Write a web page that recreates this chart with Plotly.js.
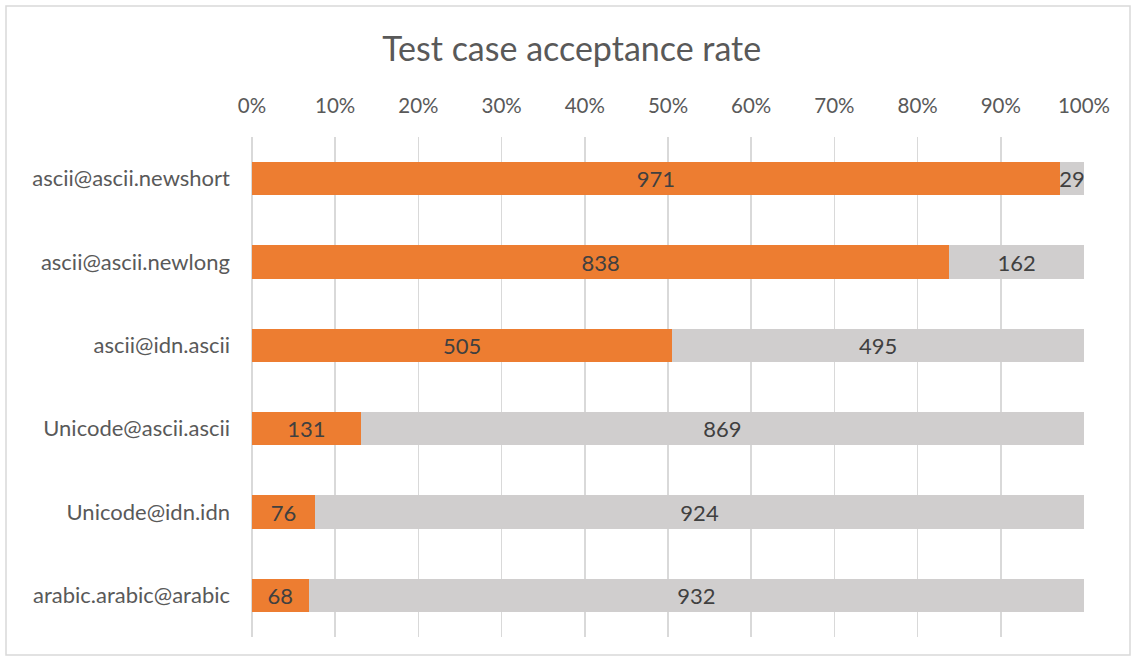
<!DOCTYPE html>
<html>
<head>
<meta charset="utf-8">
<script src="https://cdn.plot.ly/plotly-3.0.1.min.js"></script>
<style>html,body{margin:0;padding:0;background:#fff;}#chart{width:1132px;height:661px;}</style>
</head>
<body>
<div id="chart"></div>
<script>
const categories = ["ascii@ascii.newshort","ascii@ascii.newlong","ascii@idn.ascii","Unicode@ascii.ascii","Unicode@idn.idn","arabic.arabic@arabic"];
const accepted = [971, 838, 505, 131, 76, 68];
const rejected = [29, 162, 495, 869, 924, 932];
const tickVals = [0,10,20,30,40,50,60,70,80,90,100];

const font = "Lato, 'Open Sans', sans-serif";
const common = {
  type: 'bar', orientation: 'h', y: categories,
  textposition: 'inside', insidetextanchor: 'middle', constraintext: 'none',
  textfont: {family: font, size: 22, color: '#404040'},
  hoverinfo: 'x+y'
};
const data = [
  Object.assign({}, common, {name: 'Accepted', x: accepted, text: accepted.map(String), texttemplate: '%{text}', marker: {color: '#ED7D31'}}),
  Object.assign({}, common, {name: 'Rejected', x: rejected, text: rejected.map(String), texttemplate: '%{text}', marker: {color: '#D0CECE'}})
];
const layout = {
  width: 1132, height: 661,
  margin: {l: 252, r: 48, t: 137, b: 24},
  paper_bgcolor: '#fff', plot_bgcolor: '#fff',
  barmode: 'stack', barnorm: 'percent', bargap: 0.6,
  showlegend: false,
  title: {text: 'Test case acceptance rate', font: {family: font, size: 34, color: '#595959'}, x: 0.505, xanchor: 'center', y: 0.925, yanchor: 'middle'},
  xaxis: {side: 'top', range: [0, 100], tickvals: tickVals, ticktext: tickVals.map(v => v + '%'),
    showgrid: true, gridcolor: '#D9D9D9', gridwidth: 1.5, zeroline: true, zerolinecolor: '#D9D9D9', zerolinewidth: 1.5, showline: false,
    tickfont: {family: font, size: 20.5, color: '#595959'}, ticks: '', ticklabelstandoff: 19, fixedrange: true},
  yaxis: {categoryorder: 'array', categoryarray: categories, autorange: 'reversed',
    showgrid: false, zeroline: false, showline: false, ticks: '',
    tickfont: {family: font, size: 22, color: '#595959'}, ticklabelstandoff: 21},
  shapes: [{type: 'rect', xref: 'paper', yref: 'paper',
    x0: (6 - 252) / 832, x1: (1130 - 252) / 832, y0: -(655 - 637) / 500, y1: (137 - 6) / 500 + 1,
    line: {color: '#D9D9D9', width: 1.5}, fillcolor: 'rgba(0,0,0,0)', layer: 'below'}]
};
Plotly.newPlot('chart', data, layout, {displayModeBar: false, staticPlot: true});
</script>
</body>
</html>
